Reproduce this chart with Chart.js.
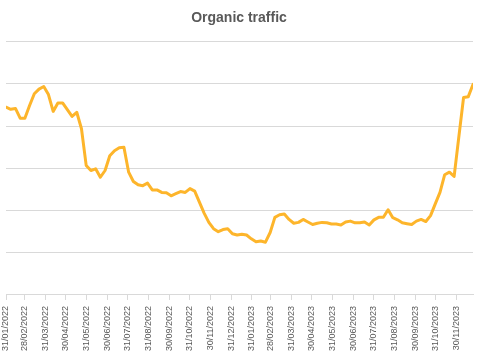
<!DOCTYPE html>
<html>
<head>
<meta charset="utf-8">
<script src="https://cdn.jsdelivr.net/npm/chart.js@4/dist/chart.umd.min.js"></script>
<style>
  html, body { margin: 0; padding: 0; background: #ffffff; }
  #wrap { width: 479px; height: 357px; position: relative; }
</style>
</head>
<body>
<div id="wrap"><canvas id="c" width="479" height="357"></canvas></div>
<script>
// ---- data (weekly points starting 31/01/2022) ----
const title = 'Organic traffic';
const firstWeek = '31/01/2022';
const traffic = [
  445, 440, 442, 419, 419, 449, 477, 488, 494, 475,
  435, 455, 455, 439, 423, 433, 394, 307, 295, 299,
  279, 295, 330, 342, 349, 350, 291, 269, 261, 259,
  265, 249, 249, 243, 242, 235, 240, 245, 243, 252,
  246, 220, 194, 172, 157, 150, 155, 157, 145, 142,
  144, 142, 133, 126, 128, 125, 148, 184, 190, 192,
  179, 170, 172, 179, 173, 167, 170, 172, 171, 168,
  168, 166, 173, 175, 171, 171, 173, 166, 178, 184,
  184, 202, 183, 178, 171, 169, 167, 175, 179, 174,
  188, 216, 243, 285, 291, 281, 375, 468, 470, 499
];
const tickLabels = [
  '31/01/2022', '28/02/2022', '31/03/2022', '30/04/2022', '31/05/2022', '30/06/2022',
  '31/07/2022', '31/08/2022', '30/09/2022', '31/10/2022', '30/11/2022', '31/12/2022',
  '31/01/2023', '28/02/2023', '31/03/2023', '30/04/2023', '31/05/2023', '30/06/2023',
  '31/07/2023', '31/08/2023', '30/09/2023', '31/10/2023', '30/11/2023'
];
const yTicks = [0, 100, 200, 300, 400, 500, 600];

// ---- helpers ----
const DAY = 86400000;
function parseDMY(s) {
  const [d, m, y] = s.split('/').map(Number);
  return Date.UTC(y, m - 1, d);
}
const origin = parseDMY(firstWeek);
const dayOf = s => Math.round((parseDMY(s) - origin) / DAY);
const tickDays = tickLabels.map(dayOf);
const labelByDay = {};
tickLabels.forEach((l, i) => { labelByDay[tickDays[i]] = l; });
const points = traffic.map((v, i) => ({ x: i * 7, y: v }));
const lastDay = (traffic.length - 1) * 7;

const grey = '#595959';
const gridCol = '#d9d9d9';

new Chart(document.getElementById('c'), {
  type: 'line',
  data: {
    datasets: [{
      data: points,
      borderColor: '#FDB52B',
      borderWidth: 3,
      pointRadius: 0,
      tension: 0,
      borderJoinStyle: 'round',
      borderCapStyle: 'round',
      fill: false
    }]
  },
  options: {
    responsive: false,
    animation: false,
    devicePixelRatio: 1,
    layout: { padding: { left: 5, right: 6, top: 0, bottom: 0 } },
    plugins: {
      legend: { display: false },
      tooltip: { enabled: false },
      title: {
        display: true,
        text: title,
        color: grey,
        font: { family: 'Liberation Sans', size: 14, weight: 'bold', lineHeight: 1.2 },
        padding: { top: 10, bottom: 15 }
      }
    },
    scales: {
      x: {
        type: 'linear',
        min: 0,
        max: lastDay,
        afterBuildTicks: scale => { scale.ticks = tickDays.map(v => ({ value: v })); },
        ticks: {
          autoSkip: false,
          minRotation: 90,
          maxRotation: 90,
          padding: 6,
          color: grey,
          font: { family: 'Liberation Sans', size: 9 },
          callback: v => labelByDay[v] || ''
        },
        grid: {
          drawOnChartArea: false,
          drawTicks: true,
          tickLength: 5,
          color: gridCol
        },
        border: { display: true, color: gridCol, width: 1 }
      },
      y: {
        min: yTicks[0],
        max: yTicks[yTicks.length - 1],
        afterBuildTicks: scale => { scale.ticks = yTicks.map(v => ({ value: v })); },
        ticks: { display: false },
        grid: { color: gridCol, drawTicks: false, lineWidth: 1 },
        border: { display: false }
      }
    }
  }
});
</script>
</body>
</html>
